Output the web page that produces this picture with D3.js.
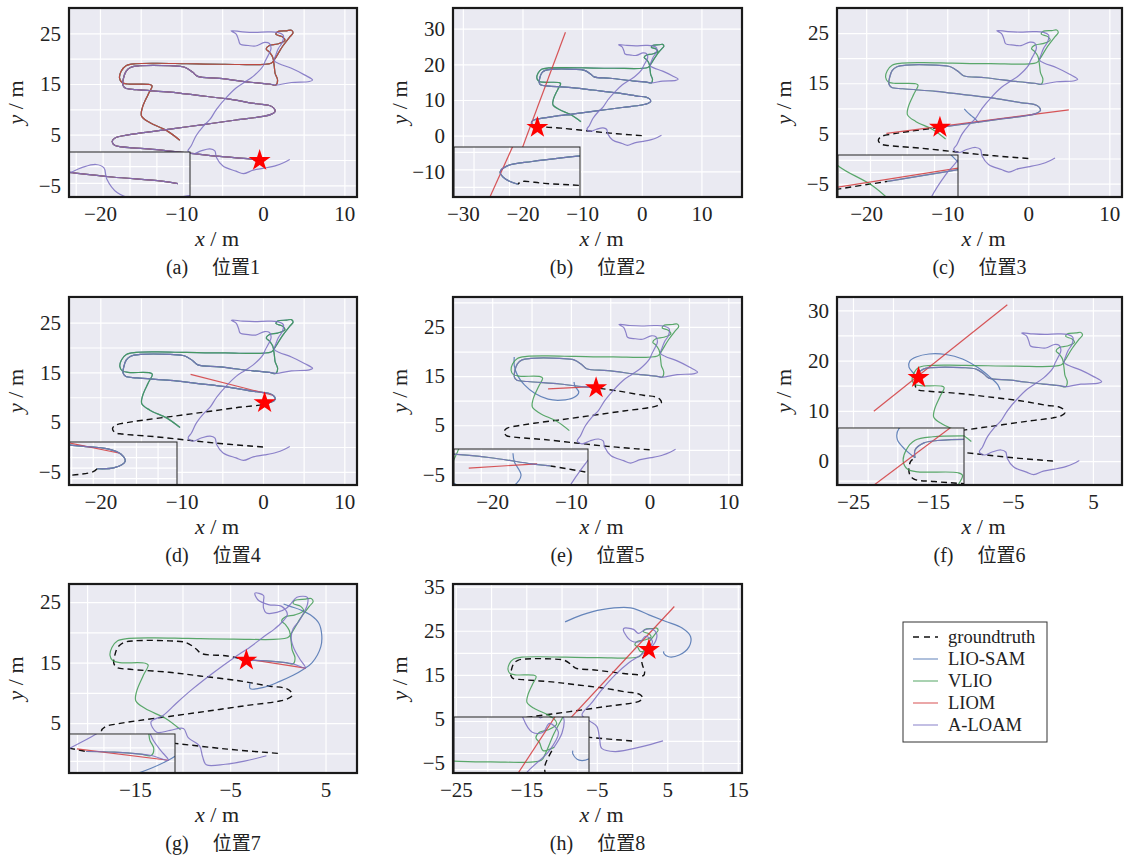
<!DOCTYPE html>
<html>
<head>
<meta charset="utf-8">
<script src="https://cdn.jsdelivr.net/npm/d3@7"></script>
<style>
  body { margin: 0; background: #fff; }
  svg text { font-family: "Liberation Serif", "Times New Roman", serif; }
</style>
</head>
<body>
<svg id="chart" width="1124" height="857"></svg>
<script>
// Section: data (metres)

// groundtruth trajectory, from the start point (0,0)
var groundtruth = [
  [0, 0], [-1.6, 0.2], [-5.3, 0.7], [-9.4, 1.4], [-13.5, 2.1], [-16, 2.4], [-17.3, 2.6],
  [-18.2, 2.9], [-18.5, 3.7], [-18.1, 4.4], [-16.7, 4.9], [-14.7, 5.4], [-11.4, 6.1],
  [-7.3, 7.0], [-3.3, 7.9], [0, 8.6],
  [1.0, 9.0], [1.5, 9.6], [1.3, 10.3], [0.7, 10.8], [-0.8, 11.1], [-4.1, 12.0],
  [-8.2, 12.8], [-11.4, 13.4], [-15.5, 13.9], [-16.9, 14.2], [-17.2, 14.9], [-17.1, 16.2],
  [-16.8, 17.5], [-16.2, 18.3], [-15.1, 18.6], [-11.4, 18.6], [-9.6, 18.3], [-8.6, 17.3], [-8.0, 16.5],
  [-5.3, 16.1], [-1.2, 15.3], [0.8, 15.0], [1.6, 14.8],
  [1.8, 15.8], [1.5, 17.1], [1.4, 18.4],
  [1.2, 20.3], [0.8, 21.3], [0.4, 21.9], [0.8, 22.6], [1.8, 22.9], [2.7, 23.6], [2.4, 24.3],
  [1.6, 24.8], [1.8, 25.3], [2.9, 25.5], [3.5, 25.6], [3.7, 25.1], [3.3, 24.3], [2.4, 22.4],
  [1.4, 19.8], [1.0, 19.1],
  [-4.7, 18.9], [-9.4, 19.0], [-13.0, 19.1], [-15.6, 19.0], [-16.8, 18.6], [-17.4, 17.5],
  [-17.6, 16.2], [-17.3, 15.3], [-16.6, 15.0], [-13.9, 14.9], [-13.6, 14.6], [-14.1, 12.9],
  [-14.8, 10.3], [-14.9, 8.7], [-13.9, 7.4], [-11.8, 5.8], [-10.2, 3.9]
];

// A-LOAM drifted part (after the right end of the y=15 line)
var aloamTail = [
  [3.5, 15.3], [5.7, 15.5], [6.1, 15.8], [5.1, 16.8], [3.5, 18.1], [2.0, 19.0], [1.4, 19.6],
  [1.6, 20.8], [1.9, 22.0], [2.4, 23.3], [2.5, 24.6], [1.8, 25.2], [0.6, 25.3], [-1.0, 25.2],
  [-2.5, 25.3], [-3.9, 25.5], [-3.3, 24.9], [-3.0, 23.8], [-2.8, 22.9], [-1.8, 22.6], [-0.9, 22.5],
  [0.2, 23.2], [0.8, 23.0], [1.0, 22.0], [0.7, 20.8], [0.3, 19.6], [0, 18.5], [-1.2, 16.5],
  [-2.3, 15.3], [-3.3, 14.2], [-4.5, 12.3], [-5.7, 10.0], [-6.5, 8.0], [-7.3, 6.7], [-8.2, 4.8],
  [-8.8, 2.8], [-9.2, 1.8], [-8.6, 1.2], [-7.6, 1.8], [-6.5, 2.2], [-5.9, 1.8], [-5.7, 0.5],
  [-4.9, -1.2], [-3.3, -2.2], [-2.4, -2.7], [-1.2, -2.0], [0.2, -1.6], [1.6, -1.1], [2.6, -0.5], [3.3, 0.1]
];
var aloamTailG = [
  [2.9, 14.1], [2.3, 15.6], [1.7, 17.3], [1.4, 19.0], [1.6, 20.6], [2.2, 21.8], [2.7, 23.2],
  [3.1, 24.6], [3.1, 25.8], [2.0, 25.8], [1.4, 24.8], [0.9, 24.0], [-0.1, 23.3], [-1.2, 23.2],
  [-1.5, 24.0], [-1.5, 25.2], [-1.5, 26.1], [-2.4, 26.5], [-2.1, 25.4], [-1.0, 24.6], [0.4, 24.3],
  [1.0, 23.0], [0.5, 21.8], [-0.4, 20.5], [-1.2, 19.6], [-2.9, 17.6], [-4.7, 15.7], [-6.8, 13.3],
  [-8.9, 10.7], [-10.5, 8.5], [-12.0, 6.3], [-13.3, 5.2], [-12.7, 3.5], [-11.3, 3.8], [-9.9, 4.1],
  [-9.4, 2.6], [-8.2, 1.2], [-7.9, -0.5], [-7.5, -1.9], [-5.5, -1.8], [-3.5, -1.3], [-1.2, -0.4]
];
var aloamTailH = [
  [2.4, 20.7], [3.3, 22.5], [3.5, 24.3], [2.8, 25.4], [1.8, 25.2], [0.9, 24.4], [0.2, 25.3],
  [-1.2, 25.5], [-1.0, 24.3], [0.0, 22.6], [1.2, 22.6], [1.9, 23.7], [2.9, 22.6], [1.9, 20.3],
  [-0.5, 17.7], [-2.4, 15.0], [-4.3, 11.6], [-5.8, 8.5], [-7.1, 5.9], [-6.0, 4.5], [-5.0, 3.3],
  [-4.6, 0.5], [-4.3, -1.7], [-2.4, -2.4], [1.4, -1.3], [4.4, 0.0]
];

// LIOM failures
var liomB = [[-23.1, -17.2], [-12.8, 29.0]];
var liomC = [[-17.5, 5.0], [5.0, 9.7]];
var liomD = [[1.2, 10.4], [-8.9, 14.6]];
var liomE = [[-7.8, 12.8], [-12.9, 12.4]];
var liomF = [[-22.4, 9.9], [-5.7, 31.1]];
var liomG = [[-4.0, 15.8], [2.9, 14.1]];
var liomH = [[-16.0, -7.3], [6.0, 30.5]];

// LIO-SAM failures
var liosamC = [[-7.9, 9.9], [-7.5, 9.2], [-7.0, 8.5], [-6.5, 7.8], [-6.1, 7.1]];
var liosamE = [[-9.6, 13.8], [-9.5, 13.0], [-9.0, 11.7], [-9.7, 10.6], [-11.2, 10.1], [-12.9, 10.3],
  [-14.6, 11.5], [-15.9, 13.2], [-16.8, 15.2], [-17.2, 17.2], [-17.2, 18.9]];
var liosamF = [[-16.8, 16.6], [-17.5, 17.6], [-18.0, 18.7], [-17.9, 19.9], [-17.1, 20.7], [-15.5, 21.3],
  [-13.4, 21.2], [-11.3, 20.3], [-9.2, 18.4], [-7.8, 16.6], [-6.9, 15.2], [-6.6, 14.1]];
var liosamG = [[-2.9, 11.7], [-2.9, 10.7], [-1.5, 10.9], [0.2, 11.9], [1.6, 12.9], [2.7, 13.9], [3.6, 15.0],
  [4.5, 17.6], [4.6, 19.6], [4.3, 21.5], [3.4, 22.9], [2.4, 23.7], [1.3, 24.3], [0.6, 24.7]];
var liosamH = [[4.5, 20.3], [4.5, 19.9], [5.2, 19.1], [6.7, 19.5], [8.1, 21.4], [8.3, 23.7], [7.1, 25.6],
  [4.8, 27.1], [2.4, 28.6], [-0.2, 30.2], [-4.3, 29.8], [-7.1, 28.6], [-9.5, 27.0]];

// relocalisation positions (star) and index on the groundtruth
var starPos = [[-0.4, -0.1], [-17.5, 2.3], [-10.9, 6.2], [0.2, 8.9], [-6.8, 12.6], [-16.8, 16.6], [-3.3, 15.4], [2.4, 20.7]];
var starIdx = [0, 6, 12, 15, 21, 27, 35, 41];

// axes
var xDomains = [[-23.8, 11.55], [-31.65, 16.8], [-23.6, 11.56], [-23.85, 11.56], [-24.98, 11.74], [-27.0, 8.64], [-21.9, 8.3], [-25.4, 15.6]];
var yDomains = [[-7.3, 30.0], [-17.2, 35.8], [-7.67, 30.0], [-7.64, 30.15], [-7.16, 31.1], [-4.77, 32.65], [-3.25, 28.0], [-7.27, 35.6]];
var xTicks = [[-20, -10, 0, 10], [-30, -20, -10, 0, 10], [-20, -10, 0, 10], [-20, -10, 0, 10], [-20, -10, 0, 10], [-25, -15, -5, 5], [-15, -5, 5], [-25, -15, -5, 5, 15]];
var yTicks = [[25, 15, 5, -5], [30, 20, 10, 0, -10], [25, 15, 5, -5], [25, 15, 5, -5], [25, 15, 5, -5], [30, 20, 10, 0], [25, 15, 5], [35, 25, 15, 5, -5]];
var gridStep = [5, 10, 5, 5, 5, 5, 5, 5];
var insetXDomains = [[-8.5, 0.5], [-21.1, -14], [-14, -6.5], [-1.1, 3.9], [-14, -4], [-22, -13.5], [-4.6, 3.4], [-8.7, 6.3]];
var insetYDomains = [[-1.7, 3.7], [0.85, 6.55], [4.9, 8.4], [7.35, 11.45], [10.8, 14.2], [13.5, 20], [12.2, 18], [17.5, 24.5]];

var panelLetters = ["(a)", "(b)", "(c)", "(d)", "(e)", "(f)", "(g)", "(h)"];
var positionNames = ["位置1", "位置2", "位置3", "位置4", "位置5", "位置6", "位置7", "位置8"];
var legendNames = ["groundtruth", "LIO-SAM", "VLIO", "LIOM", "A-LOAM"];

// Section: layout (pixels)
var frames = [
  [69, 8, 357, 197], [453, 8, 742, 197], [837, 8, 1122, 197],
  [69, 297, 357, 485], [453, 297, 742, 485], [837, 297, 1122, 485],
  [69, 584, 357, 773], [453, 584, 742, 773]
];
var insetBoxes = [
  [69, 152, 190, 197], [454, 147, 580, 197], [838, 155, 958, 197],
  [69, 442, 177, 485], [454, 449, 588, 485], [838, 428, 964, 485],
  [69, 734, 175, 773], [454, 717, 589, 773]
];
var colors = ["#111111", "#4c72b0", "#3f9b52", "#d23a3c", "#7a6fc2"];
var bg = "#eaeaf2";
var serif = "'Liberation Serif', 'Times New Roman', serif";
var cjk = "'Noto Sans CJK SC', 'Noto Sans CJK JP', sans-serif";

var svg = d3.select("#chart");
var defs = svg.append("defs");

// tracks of one panel: [groundtruth, LIO-SAM, VLIO, LIOM, A-LOAM]
function panelTracks(i) {
  var k = starIdx[i], s = starPos[i];
  var before = groundtruth.slice(0, k + 1).concat([s]);
  var after = [s].concat(groundtruth.slice(k + 1));
  var aloam = [s].concat(groundtruth.slice(k + 1, 39)).concat(aloamTail);
  var liosam = [after, after, liosamC, after, liosamE, liosamF, liosamG, liosamH][i];
  var liom = [after, liomB, liomC, liomD, liomE, liomF, liomG, liomH][i];
  if (i === 6) aloam = [s].concat(groundtruth.slice(k + 1, 39)).concat(aloamTailG);
  if (i === 7) aloam = aloamTailH;
  return [i === 0 ? [] : before, liosam, after, liom, aloam];
}

function drawTracks(g, tracks, x, y, width) {
  var line = d3.line()
    .x(function (d) { return x(d[0]); })
    .y(function (d) { return y(d[1]); })
    .curve(d3.curveCatmullRom.alpha(0.5));
  tracks.forEach(function (t, j) {
    if (t.length < 2) return;
    g.append("path")
      .attr("d", line(t))
      .attr("fill", "none")
      .attr("stroke", colors[j])
      .attr("stroke-width", j === 0 ? width + 0.2 : width)
      .attr("stroke-opacity", j === 0 ? 1 : 0.85)
      .attr("stroke-dasharray", j === 0 ? "6,4" : null)
      .attr("stroke-linejoin", "round");
  });
}

function grid(g, x, y, box, xv, yv) {
  g.append("g")
    .attr("transform", "translate(0," + box[3] + ")")
    .call(d3.axisBottom(x).tickValues(xv).tickSize(-(box[3] - box[1])).tickFormat(""))
    .call(function (a) {
      a.select(".domain").remove();
      a.selectAll("line").attr("stroke", "#fff").attr("stroke-width", 1.2);
    });
  g.append("g")
    .attr("transform", "translate(" + box[0] + ",0)")
    .call(d3.axisLeft(y).tickValues(yv).tickSize(-(box[2] - box[0])).tickFormat(""))
    .call(function (a) {
      a.select(".domain").remove();
      a.selectAll("line").attr("stroke", "#fff").attr("stroke-width", 1.2);
    });
}

function drawPanel(i) {
  var f = frames[i];
  var g = svg.append("g").attr("class", "panel");
  var x = d3.scaleLinear().domain(xDomains[i]).range([f[0], f[2]]);
  var y = d3.scaleLinear().domain(yDomains[i]).range([f[3], f[1]]);
  var tracks = panelTracks(i);

  g.append("rect")
    .attr("x", f[0]).attr("y", f[1])
    .attr("width", f[2] - f[0]).attr("height", f[3] - f[1])
    .attr("fill", bg);

  var step = gridStep[i];
  var xd = xDomains[i], yd = yDomains[i];
  grid(g, x, y, f,
    d3.range(Math.ceil(xd[0] / step) * step, xd[1], step),
    d3.range(Math.ceil(yd[0] / step) * step, yd[1], step));

  defs.append("clipPath").attr("id", "clip" + i)
    .append("rect")
    .attr("x", f[0]).attr("y", f[1])
    .attr("width", f[2] - f[0]).attr("height", f[3] - f[1]);
  var plot = g.append("g").attr("clip-path", "url(#clip" + i + ")");
  drawTracks(plot, tracks, x, y, 1.2);

  plot.append("path")
    .attr("d", d3.symbol(d3.symbolStar, 150)())
    .attr("transform", "translate(" + x(starPos[i][0]) + "," + y(starPos[i][1]) + ")")
    .attr("fill", "#ff0000");

  // inset: zoom on the relocalisation area
  var b = insetBoxes[i];
  var ix = d3.scaleLinear().domain(insetXDomains[i]).range([b[0], b[2]]);
  var iy = d3.scaleLinear().domain(insetYDomains[i]).range([b[3], b[1]]);
  var ig = g.append("g").attr("class", "inset");
  ig.append("rect")
    .attr("x", b[0]).attr("y", b[1])
    .attr("width", b[2] - b[0]).attr("height", b[3] - b[1])
    .attr("fill", bg);
  grid(ig, ix, iy, b, ix.ticks(4), iy.ticks(3));
  defs.append("clipPath").attr("id", "iclip" + i)
    .append("rect")
    .attr("x", b[0]).attr("y", b[1])
    .attr("width", b[2] - b[0]).attr("height", b[3] - b[1]);
  drawTracks(ig.append("g").attr("clip-path", "url(#iclip" + i + ")"), tracks, ix, iy, 1.2);
  ig.append("rect")
    .attr("x", b[0]).attr("y", b[1])
    .attr("width", b[2] - b[0]).attr("height", b[3] - b[1])
    .attr("fill", "none").attr("stroke", "#222").attr("stroke-width", 1);

  // frame
  g.append("rect")
    .attr("x", f[0]).attr("y", f[1])
    .attr("width", f[2] - f[0]).attr("height", f[3] - f[1])
    .attr("fill", "none").attr("stroke", "#1a1a1a").attr("stroke-width", 2.2);

  // tick labels
  var gx = g.append("g")
    .attr("transform", "translate(0," + f[3] + ")")
    .call(d3.axisBottom(x).tickValues(xTicks[i]).tickSize(0).tickPadding(9).tickFormat(d3.format("d")));
  var gy = g.append("g")
    .attr("transform", "translate(" + f[0] + ",0)")
    .call(d3.axisLeft(y).tickValues(yTicks[i]).tickSize(0).tickPadding(8).tickFormat(d3.format("d")));
  [gx, gy].forEach(function (a) {
    a.select(".domain").remove();
    a.attr("font-family", serif).attr("font-size", 21);
    a.selectAll("text").attr("fill", "#222");
  });

  // axis titles
  var xl = g.append("text")
    .attr("x", (f[0] + f[2]) / 2 + 4).attr("y", f[3] + 49)
    .attr("text-anchor", "middle").attr("font-size", 22).attr("fill", "#222");
  xl.append("tspan").attr("font-style", "italic").text("x");
  xl.append("tspan").text(" / m");

  var yl = g.append("text")
    .attr("transform", "translate(" + (f[0] - 46) + "," + ((f[1] + f[3]) / 2) + ")rotate(-90)")
    .attr("text-anchor", "middle").attr("font-size", 22).attr("fill", "#222");
  yl.append("tspan").attr("font-style", "italic").text("y");
  yl.append("tspan").text(" / m");

  // caption
  var cap = g.append("text")
    .attr("x", (f[0] + f[2]) / 2).attr("y", f[3] + 77)
    .attr("text-anchor", "middle").attr("font-size", 20).attr("fill", "#222");
  cap.append("tspan").text(panelLetters[i]);
  cap.append("tspan").attr("dx", 24).attr("font-family", cjk).attr("font-size", 19).text(positionNames[i].slice(0, 2));
  cap.append("tspan").text(positionNames[i].slice(2));
}

for (var i = 0; i < frames.length; i++) drawPanel(i);

// legend
var lg = svg.append("g").attr("class", "legend");
lg.append("rect")
  .attr("x", 903).attr("y", 622).attr("width", 144).attr("height", 120)
  .attr("fill", "#fff").attr("stroke", "#333").attr("stroke-width", 1);
legendNames.forEach(function (name, j) {
  var cy = 637 + j * 22;
  lg.append("line")
    .attr("x1", 913).attr("x2", 938).attr("y1", cy).attr("y2", cy)
    .attr("stroke", colors[j])
    .attr("stroke-width", 1.5)
    .attr("stroke-opacity", j === 0 ? 1 : 0.6)
    .attr("stroke-dasharray", j === 0 ? "6,5" : null);
  lg.append("text")
    .attr("x", 948).attr("y", cy + 6)
    .attr("font-size", 18.5).attr("fill", "#222")
    .text(name);
});
</script>
</body>
</html>
